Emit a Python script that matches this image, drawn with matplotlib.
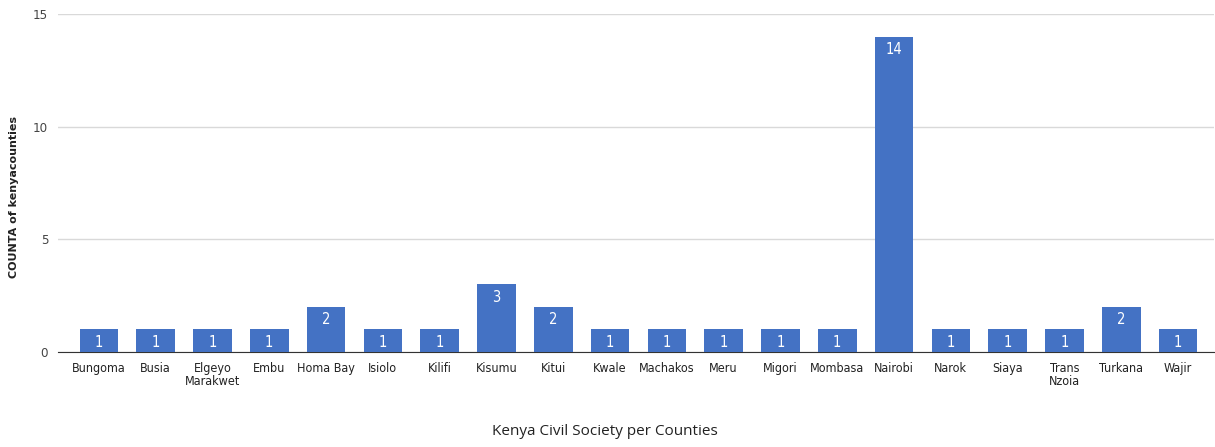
import matplotlib
matplotlib.use("Agg")
from matplotlib import pyplot as plt

counties = ["Bungoma", "Busia", "Elgeyo\nMarakwet", "Embu", "Homa Bay", "Isiolo",
            "Kilifi", "Kisumu", "Kitui", "Kwale", "Machakos", "Meru", "Migori",
            "Mombasa", "Nairobi", "Narok", "Siaya", "Trans\nNzoia", "Turkana", "Wajir"]
counts = [1, 1, 1, 1, 2, 1, 1, 3, 2, 1, 1, 1, 1, 1, 14, 1, 1, 1, 2, 1]
y_ticks = [0, 5, 10, 15]

narrow = dict(family="DejaVu Sans", stretch="condensed")

fig = plt.figure(figsize=(12.15, 4.47), dpi=100)
ax = fig.add_axes([0.0477, 0.2125, 0.9513, 0.7562])

x = list(range(len(counties)))
bars = ax.bar(x, counts, width=0.68, color="#4472c4", zorder=3)

for b, v in zip(bars, counts):
    ax.annotate(str(v), (b.get_x() + b.get_width() / 2, v), xytext=(0, -4),
                textcoords="offset points", ha="center", va="top",
                color="white", fontsize=10.5, zorder=4, **narrow)

ax.set_xlim(-0.72, len(counties) - 0.37)
ax.set_ylim(0, 15)
ax.set_yticks(y_ticks)
ax.set_xticks(x)
ax.set_xticklabels(counties, fontsize=9, color="#222222",
                   linespacing=1.0, **narrow)
for t in ax.get_yticklabels():
    t.set_family("DejaVu Sans")
    t.set_stretch("condensed")
    t.set_fontsize(9.5)
    t.set_color("#444444")

ax.grid(axis="y", color="#d9d9d9", lw=1, zorder=0)
for s in ["top", "right", "left"]:
    ax.spines[s].set_visible(False)
ax.spines["bottom"].set_color("#333333")
ax.tick_params(length=0, pad=7)

ax.set_ylabel("COUNTA of kenyacounties", fontsize=8, fontweight="bold",
              color="#222222")
ax.yaxis.set_label_coords(-0.034, 0.46)
fig.text(0.4975, 0.034, "Kenya Civil Society per Counties", fontsize=11,
         family=["Open Sans", "DejaVu Sans"], color="#222222",
         ha="center", va="center")

fig.savefig("out.png", dpi=100)
